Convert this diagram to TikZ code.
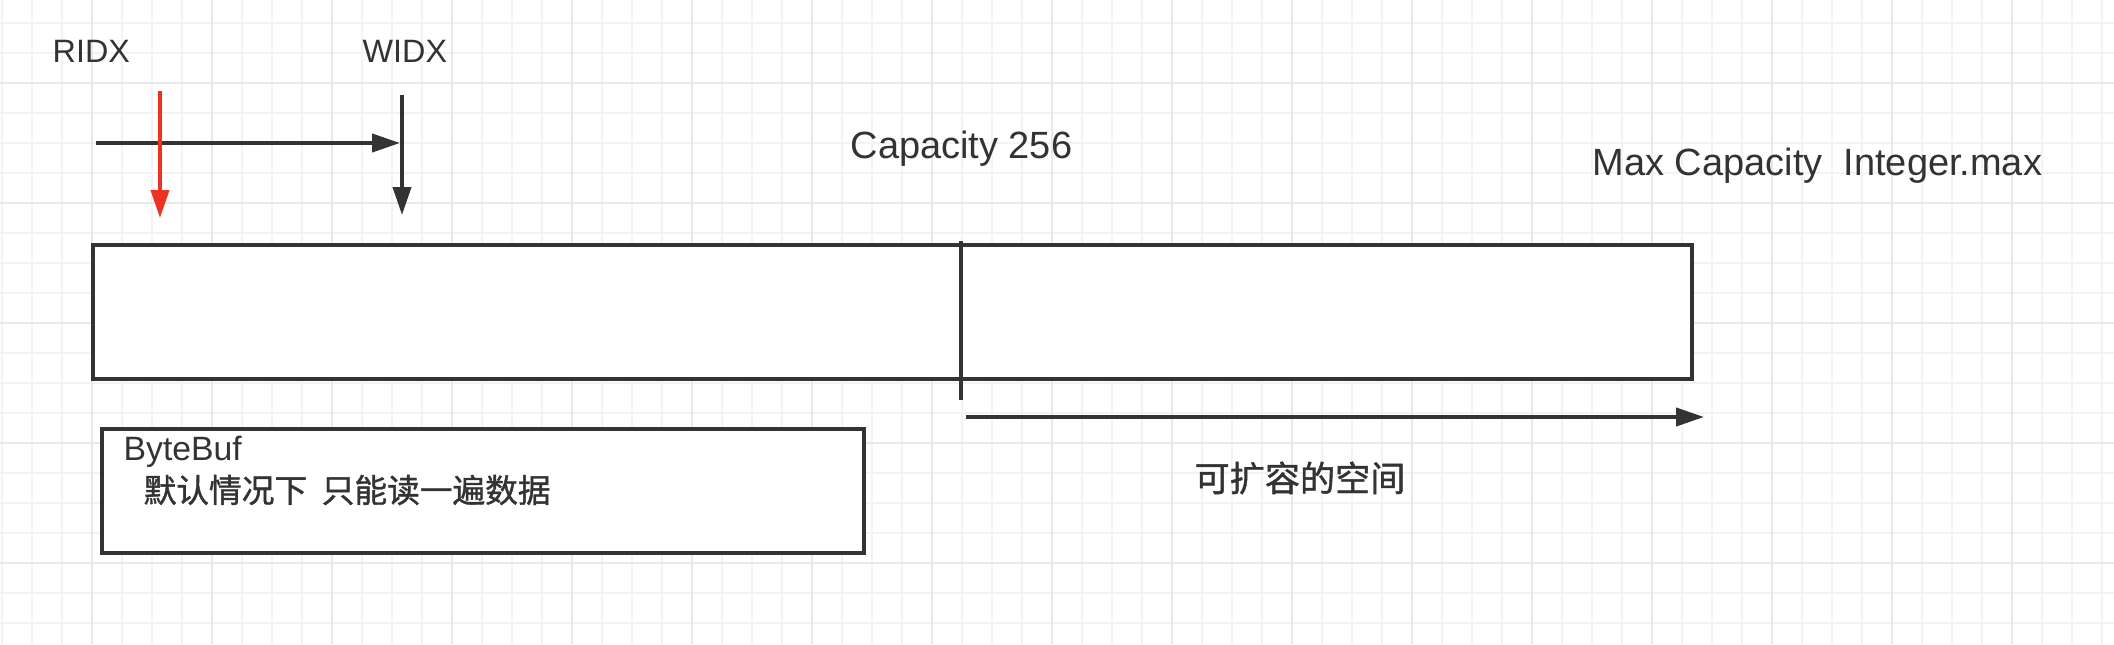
\documentclass[tikz,border=0pt]{standalone}
\usepackage{fontspec}
\setmainfont{Liberation Sans}
\newfontfamily\cjk[FakeBold=1.2]{Noto Sans CJK SC}
\usetikzlibrary{arrows.meta}
\usetikzlibrary{positioning}

\definecolor{ink}{HTML}{333333}
\definecolor{readred}{HTML}{EB3324}
\definecolor{gridminor}{HTML}{F3F3F3}
\definecolor{gridmajor}{HTML}{E8E8E8}

\tikzset{
  lbl/.style={inner sep=0pt, text=ink, font=\fontsize{10.8pt}{13pt}\selectfont},
  small/.style={font=\fontsize{9.2pt}{11pt}\selectfont},
  box/.style={draw=ink, line width=0.42mm, fill=white, inner sep=0pt},
  ptr/.style={draw=ink, line width=0.4mm, -{Triangle[length=2.8mm,width=1.8mm]}}
}

\begin{document}
\begin{tikzpicture}[x=1mm,y=1mm]
\useasboundingbox (0,0) rectangle (211.4,-64.4);
\fill[white] (0,0) rectangle (211.4,-64.4);

\foreach \x in {0,...,70}
  \draw[gridminor, line width=0.15mm] ({0.2+3*\x},0) -- ({0.2+3*\x},-64.4);
\foreach \y in {0,...,20}
  \draw[gridminor, line width=0.15mm] (0,{-2.3-3*\y}) -- (211.4,{-2.3-3*\y});
\foreach \x in {0,...,16}
  \draw[gridmajor, line width=0.25mm] ({9.2+12*\x},0) -- ({9.2+12*\x},-64.4);
\foreach \y in {0,...,4}
  \draw[gridmajor, line width=0.25mm] (0,{-8.3-12*\y}) -- (211.4,{-8.3-12*\y});

\node (ridx) at (5.2,-6.3) [lbl, small, anchor=base west] {RIDX};
\node (widx) at (36.2,-6.3) [lbl, small, anchor=base west] {WIDX};
\node (cap) at (85.0,-15.8) [lbl, anchor=base west] {Capacity 256};
\node (maxcap) at (159.2,-17.5) [lbl, anchor=base west] {Max Capacity\ \ Integer.max};

\node (buf) at (89.25,-31.2) [box, minimum width=159.9mm, minimum height=13.4mm] {};
\node (note) at (48.3,-49.1) [box, minimum width=76.2mm, minimum height=12.4mm] {};
\node (notehead) at (12.3,-46.0) [lbl, font=\fontsize{9.6pt}{11pt}\selectfont, anchor=base west] {ByteBuf};
\node (notetext) at (14.3,-49.0) [lbl, font=\fontsize{9.3pt}{11pt}\selectfont, anchor=west] {\cjk 默认情况下\ \ 只能读一遍数据};
\node (grow) at (130.0,-47.8) [lbl, font=\fontsize{10pt}{12pt}\selectfont] {\cjk 可扩容的空间};

\coordinate (rtop) at (16.0,-9.1);
\coordinate (rbot) at (16.0,-21.8);
\coordinate (hstart) at (9.6,-14.3);
\coordinate (hend) at (40.0,-14.3);
\coordinate (wtop) at (40.2,-9.5);
\coordinate (wbot) at (40.2,-21.5);
\coordinate (divtop) at (96.1,-24.1);
\coordinate (divbot) at (96.1,-40.0);
\coordinate (gstart) at (96.6,-41.7);
\coordinate (gend) at (170.4,-41.7);

\draw[ptr] (hstart) -- (hend);
\draw[ptr, draw=readred, fill=readred] (rtop) -- (rbot);
\draw[ptr, fill=ink] (wtop) -- (wbot);
\draw[draw=ink, line width=0.4mm] (divtop) -- (divbot);
\draw[ptr, fill=ink] (gstart) -- (gend);
\end{tikzpicture}
\end{document}
